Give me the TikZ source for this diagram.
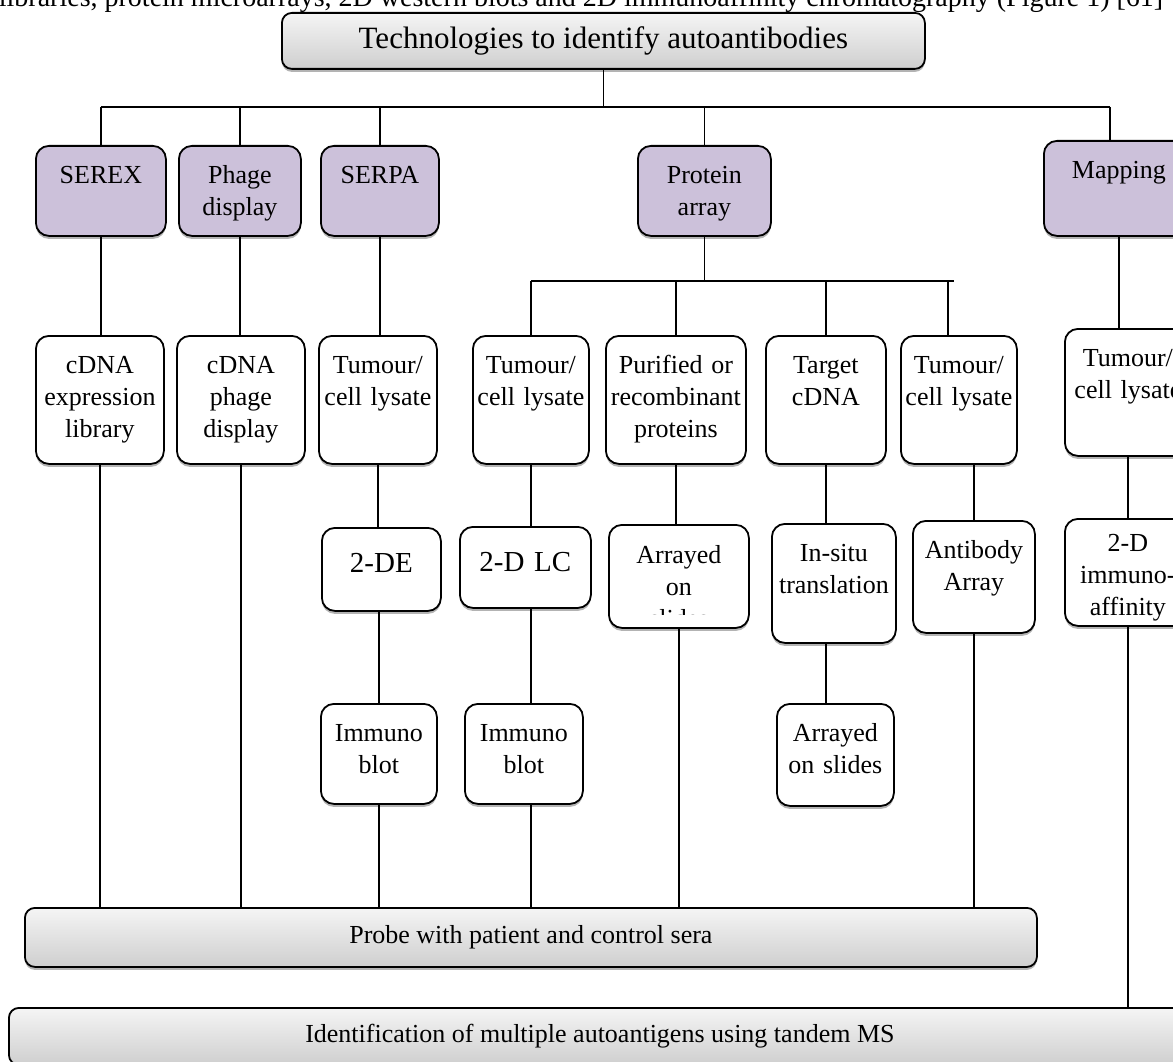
\documentclass[tikz,border=0pt]{standalone}
\usepackage{fontspec}
\setmainfont{Liberation Serif}
\usetikzlibrary{shadows}

\definecolor{techpurple}{HTML}{CCC1DA}
\newcommand{\boxfont}{\fontsize{26}{32}\selectfont}
\newcommand{\bigboxfont}{\fontsize{29}{34}\selectfont}

\begin{document}
\begin{tikzpicture}[
  x=1pt, y=-1pt,
  line width=1.8pt,
  boxshadow/.style={drop shadow={shadow xshift=0pt, shadow yshift=-3pt, opacity=0.6, fill=gray}},
  tech/.style={draw, line width=1.8pt, rounded corners=13pt, fill=techpurple, anchor=north west,
    align=center, inner sep=0pt, text height=38pt, font=\boxfont, boxshadow},
  stagebox/.style={tech, fill=white},
  banner/.style={draw, line width=1.8pt, rounded corners=10pt, top color=gray!8, bottom color=gray!38,
    anchor=north west, inner sep=0pt, font=\boxfont}
]
\useasboundingbox (0,0) rectangle (1173,1062);
\clip (0,0) rectangle (1173,1062);

% page text cut off above the figure
\node[anchor=base west, inner sep=0pt, font=\fontsize{28}{30}\selectfont] (pagetext) at (-2,7)
  {libraries, protein microarrays, 2D western blots and 2D immunoaffinity chromatography (Figure 1) [61]};

\node[banner, boxshadow, minimum width=643pt, minimum height=56pt, font=\fontsize{31}{34}\selectfont] (title) at (281,12) {Technologies to identify autoantibodies};

% technologies
\node[tech, text width=130pt, text depth=52pt] (serex) at (35,145) {SEREX};
\node[tech, text width=122pt, text depth=52pt] (phage) at (178,145) {Phage\\display};
\node[tech, text width=118pt, text depth=52pt] (serpa) at (320,145) {SERPA};
\node[tech, text width=133pt, text depth=52pt] (protein) at (637,145) {Protein\\array};
\node[tech, text width=150pt, text depth=57pt] (mapping) at (1043,140) {Mapping};

% sources
\node[stagebox, text width=128pt, text depth=90pt] (cdnalib) at (35,335) {cDNA\\expression\\library};
\node[stagebox, text width=128pt, text depth=90pt] (cdnaphage) at (176,335) {cDNA\\phage\\display};
\node[stagebox, text width=118pt, text depth=90pt] (lysateA) at (318,335) {Tumour/\\cell lysate};
\node[stagebox, text width=116pt, text depth=90pt] (lysateB) at (472,335) {Tumour/\\cell lysate};
\node[stagebox, text width=140pt, text depth=90pt] (purified) at (605,335) {Purified or\\recombinant\\proteins};
\node[stagebox, text width=120pt, text depth=90pt] (targetcdna) at (765,335) {Target\\cDNA};
\node[stagebox, text width=116pt, text depth=90pt] (lysateC) at (900,335) {Tumour/\\cell lysate};
\node[stagebox, text width=126pt, text depth=89pt] (lysateD) at (1064,328) {Tumour/\\cell lysate};

% separation / arraying
\node[stagebox, text width=119pt, text height=45pt, text depth=38pt, font=\bigboxfont] (twode) at (321,527) {2-DE};
\node[stagebox, text width=131pt, text height=45pt, text depth=36pt, font=\bigboxfont] (twodlc) at (459,526) {2-D LC};
\node[stagebox, text width=140pt, text depth=65pt,
  path picture={\clip (path picture bounding box.north west) rectangle ([yshift=13pt]path picture bounding box.south east);
    \node[anchor=north, align=center, inner sep=0pt, text width=140pt, text height=38pt, text depth=0pt, font=\boxfont] (arrtext) at (path picture bounding box.north) {Arrayed\\on\\slides};}] (arrayedA) at (608,524) {};
\node[stagebox, text width=124pt, text depth=81pt] (insitu) at (771,523) {In-situ\\translation};
\node[stagebox, text width=122pt, text depth=74pt] (antibody) at (912,520) {Antibody\\Array};
\node[stagebox, text width=126pt, text height=33pt, text depth=74pt] (immunoaff) at (1064,518) {2-D\\immuno-\\affinity};

\node[stagebox, text width=116pt, text depth=62pt] (blotA) at (320,703) {Immuno\\blot};
\node[stagebox, text width=118pt, text depth=62pt] (blotB) at (464,703) {Immuno\\blot};
\node[stagebox, text width=117pt, text depth=64pt] (arrayedB) at (776,703) {Arrayed\\on slides};

\node[banner, boxshadow, minimum width=1012pt, minimum height=59pt] (probe) at (24,907) {Probe with patient and control sera};
\node[banner, minimum width=1182pt, minimum height=57pt] (identify) at (8,1007) {Identification of multiple autoantigens using tandem MS};

% connectors
\coordinate (busA) at (0,107);
\coordinate (busB) at (0,281);
\coordinate (mapdrop) at ([xshift=-9pt]mapping.north);
\coordinate (dropC) at ([xshift=-11pt]lysateC.north);

\draw (title.south) -- (title.south |- busA);
\draw (serex.north |- busA) -- (mapdrop |- busA);
\foreach \n in {serex, phage, serpa, protein}
  \draw (\n.north |- busA) -- (\n.north);
\draw (mapdrop |- busA) -- (mapdrop);

\foreach \a/\b in {serex/cdnalib, phage/cdnaphage, serpa/lysateA, mapping/lysateD}
  \draw (\a.south) -- (\a.south |- \b.north);
\draw (protein.south) -- (protein.south |- busB);
\draw (lysateB.north |- busB) -- ([xshift=6pt]dropC |- busB);
\foreach \n in {lysateB, purified, targetcdna}
  \draw (\n.north |- busB) -- (\n.north);
\draw (dropC |- busB) -- (dropC);

\foreach \a/\b in {lysateA/twode, lysateB/twodlc, purified/arrayedA, targetcdna/insitu}
  \draw (\a.south) -- (\a.south |- \b.north);
\draw (antibody.north |- lysateC.south) -- (antibody.north);
\draw (lysateD.south -| immunoaff.north) -- (immunoaff.north);

\draw (twode.south -| blotA.north) -- (blotA.north);
\draw (twodlc.south -| lysateB.south) -- (blotB.north -| lysateB.south);
\draw (insitu.south -| targetcdna.south) -- (arrayedB.north -| targetcdna.south);

\foreach \n in {cdnalib, cdnaphage, blotA, arrayedA, antibody}
  \draw (\n.south) -- (\n.south |- probe.north);
\draw (blotB.south -| lysateB.south) -- (probe.north -| lysateB.south);
\draw (immunoaff.south) -- (immunoaff.south |- identify.north);

\end{tikzpicture}
\end{document}
